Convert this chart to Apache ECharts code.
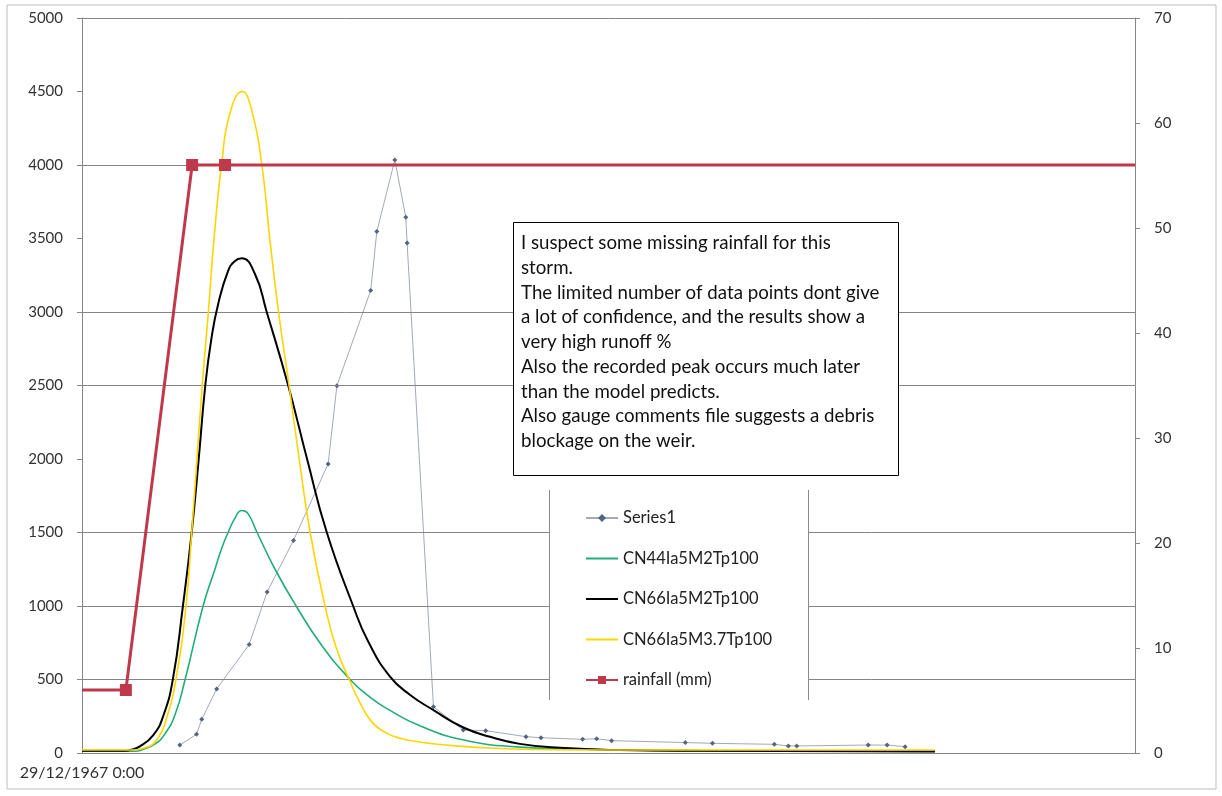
<!DOCTYPE html>
<html><head><meta charset="utf-8">
<script src="https://cdn.jsdelivr.net/npm/echarts@6/dist/echarts.min.js"></script>
<style>html,body{margin:0;padding:0;background:#fff}#c{width:1222px;height:796px}</style>
</head><body><div id="c"></div>
<script>
// ---- data (x in hours after 29/12/1967 0:00) ----
const xTickLabels = ['29/12/1967 0:00'];
const leftTicks = [0, 5000, 500];      // min, max, interval (flow)
const rightTicks = [0, 70, 10];        // min, max, interval (rainfall mm)
const visibleGrid = [5000, 4000, 3000, 2500, 1500, 1000, 500];

const series1Hours = [2.23,2.61,2.73,3.07,3.81,4.22,4.82,5.61,5.81,6.58,6.72,7.13,7.38,7.41,8.01,8.69,9.20,10.12,10.46,11.41,11.73,12.07,13.75,14.37,15.78,16.10,16.29,17.92,18.35,18.76];
const series1Flow  = [54,127,229,436,738,1096,1446,1966,2499,3146,3547,4034,3644,3469,315,156,152,111,104,93,97,84,71,66,59,48,48,54,54,43];

const cn44Hours = [0,1.21,1.39,1.66,1.89,2.12,2.35,2.76,3.03,3.18,3.33,3.49,3.64,3.78,3.99,4.40,4.88,5.47,6.11,6.56,7.02,7.70,8.68,9.98,11.35,14.09,19.44];
const cn44Flow  = [12,12,25,60,130,260,500,1000,1250,1390,1500,1600,1650,1630,1500,1250,1000,730,500,380,290,185,90,40,25,15,10];

const cn66Hours = [0,0.98,1.09,1.32,1.62,1.85,2.07,2.30,2.50,2.66,2.81,2.95,3.10,3.33,3.48,3.64,3.94,4.21,4.70,5.13,5.58,6.18,6.52,7.02,7.48,8.02,8.68,9.30,9.98,10.89,12.26,14.09,19.44];
const cn66Flow  = [15,15,20,45,120,250,500,1000,1500,2000,2500,2820,3050,3280,3345,3365,3260,3000,2500,2000,1500,1000,760,520,395,290,175,110,62,35,20,15,10];

const cn66m37Hours = [0,1.09,1.44,1.73,1.94,2.14,2.37,2.50,2.62,2.74,2.88,3.01,3.18,3.37,3.65,3.87,4.10,4.28,4.48,4.72,4.95,5.20,5.54,5.79,6.09,6.34,6.61,6.91,7.25,7.70,8.16,9.23,10.74,12.95,19.44];
const cn66m37Flow  = [20,20,35,100,250,500,1000,1500,2000,2500,3000,3500,4000,4350,4500,4370,4000,3500,3000,2500,2000,1500,1000,720,500,340,210,140,100,75,58,34,22,20,20];

const rainHours = [0, 1.00, 2.51, 3.26, 24];
const rainMm    = [6, 6, 56, 56, 56];
const rainMarker = [false, true, true, true, false];

const noteLines = [
  'I suspect some missing rainfall for this',
  'storm.',
  'The limited number of data points dont give',
  'a lot of confidence, and the results show a',
  'very high runoff %',
  'Also the recorded peak occurs much later',
  'than the model predicts.',
  'Also gauge comments file suggests a debris',
  'blockage on the weir.'
];

const names = ['Series1', 'CN44Ia5M2Tp100', 'CN66Ia5M2Tp100', 'CN66Ia5M3.7Tp100', 'rainfall (mm)'];

// ---- chart ----
const FONT = 'Lato';
const pair = (xs, ys) => xs.map((x, i) => [x, ys[i]]);
const chart = echarts.init(document.getElementById('c'), null, {renderer: 'canvas'});
const noSymbol = {color: 'rgba(0,0,0,0)', borderWidth: 0};

const option = {
  animation: false,
  backgroundColor: '#ffffff',
  grid: {left: 82, right: 87, top: 18, bottom: 43, containLabel: false},
  xAxis: {
    type: 'value', min: 0, max: 24, interval: 24,
    axisLine: {show: true, lineStyle: {color: '#868686', width: 1}},
    axisTick: {show: false},
    splitLine: {show: false},
    axisLabel: {
      margin: 12, fontFamily: FONT, fontSize: 16, color: '#333',
      formatter: v => (v === 0 ? xTickLabels[0] : '')
    }
  },
  yAxis: [
    {
      type: 'value', position: 'left',
      min: leftTicks[0], max: leftTicks[1], interval: leftTicks[2],
      axisLine: {show: true, lineStyle: {color: '#868686', width: 1}},
      axisTick: {show: true, length: 5, lineStyle: {color: '#868686'}},
      splitLine: {show: false},
      axisLabel: {margin: 19, fontFamily: FONT, fontSize: 15, color: '#333', formatter: v => String(v)}
    },
    {
      type: 'value', position: 'right',
      min: rightTicks[0], max: rightTicks[1], interval: rightTicks[2],
      axisLine: {show: true, lineStyle: {color: '#868686', width: 1}},
      axisTick: {show: true, length: 5, lineStyle: {color: '#868686'}},
      splitLine: {show: false},
      axisLabel: {margin: 19, fontFamily: FONT, fontSize: 15, color: '#333', formatter: v => String(v)}
    }
  ],
  legend: {
    data: [
      {name: names[0]},
      {name: names[1], itemStyle: noSymbol},
      {name: names[2], itemStyle: noSymbol},
      {name: names[3], itemStyle: noSymbol},
      {name: names[4]}
    ],
    orient: 'vertical',
    left: 585, top: 509, padding: 0,
    itemWidth: 32, itemHeight: 10, itemGap: 22.5,
    textStyle: {fontFamily: FONT, fontSize: 16.5, color: '#222', lineHeight: 18},
    z: 60
  },
  series: [
    {
      name: 'gridlines', type: 'line', yAxisIndex: 0, data: [[0, null]],
      silent: true, z: 1,
      markLine: {
        silent: true, symbol: 'none', label: {show: false},
        lineStyle: {color: '#858585', width: 1, type: 'solid'},
        emphasis: {disabled: true},
        data: visibleGrid.map(v => ({yAxis: v}))
      }
    },
    {
      name: names[0], type: 'line', yAxisIndex: 0,
      data: pair(series1Hours, series1Flow),
      symbol: 'diamond', symbolSize: 5,
      itemStyle: {color: '#53647e'},
      lineStyle: {color: '#a3a9b8', width: 1},
      z: 3
    },
    {
      name: names[1], type: 'line', yAxisIndex: 0,
      data: pair(cn44Hours, cn44Flow), smooth: 0.5, symbol: 'none',
      itemStyle: {color: '#1eae76'}, lineStyle: {color: '#1eae76', width: 1.6},
      z: 4
    },
    {
      name: names[2], type: 'line', yAxisIndex: 0,
      data: pair(cn66Hours, cn66Flow), smooth: 0.5, symbol: 'none',
      itemStyle: {color: '#000000'}, lineStyle: {color: '#000000', width: 2},
      z: 5
    },
    {
      name: names[3], type: 'line', yAxisIndex: 0,
      data: pair(cn66m37Hours, cn66m37Flow), smooth: 0.5, symbol: 'none',
      itemStyle: {color: '#ffd500'}, lineStyle: {color: '#ffd500', width: 1.6},
      z: 6
    },
    {
      name: names[4], type: 'line', yAxisIndex: 1,
      data: rainHours.map((h, i) => rainMarker[i]
        ? {value: [h, rainMm[i]]}
        : {value: [h, rainMm[i]], symbol: 'none'}),
      symbol: 'rect', symbolSize: 12,
      itemStyle: {color: '#c0394b'},
      lineStyle: {color: '#c0394b', width: 3},
      z: 7
    }
  ],
  graphic: [
    {type: 'rect', z: 0, silent: true,
     shape: {x: 7, y: 5, width: 1209, height: 784},
     style: {fill: null, stroke: '#bdbdbd', lineWidth: 1}},
    {type: 'rect', z: 50, silent: true,
     shape: {x: 549, y: 490, width: 259, height: 210},
     style: {fill: '#ffffff', stroke: null}},
    {type: 'line', z: 51, silent: true,
     shape: {x1: 549.5, y1: 490, x2: 549.5, y2: 700},
     style: {stroke: '#8a8a8a', lineWidth: 1}},
    {type: 'line', z: 51, silent: true,
     shape: {x1: 808.5, y1: 490, x2: 808.5, y2: 700},
     style: {stroke: '#8a8a8a', lineWidth: 1}},
    {type: 'rect', z: 90, silent: true,
     shape: {x: 513.5, y: 222.5, width: 385, height: 253},
     style: {fill: '#ffffff', stroke: '#000000', lineWidth: 1}},
    {type: 'text', z: 91, silent: true, left: 521, top: 231,
     style: {text: noteLines.join('\n'), fontFamily: FONT, fontSize: 18.7,
             lineHeight: 24.7, fill: '#111'}}
  ]
};
chart.setOption(option);
</script></body></html>
